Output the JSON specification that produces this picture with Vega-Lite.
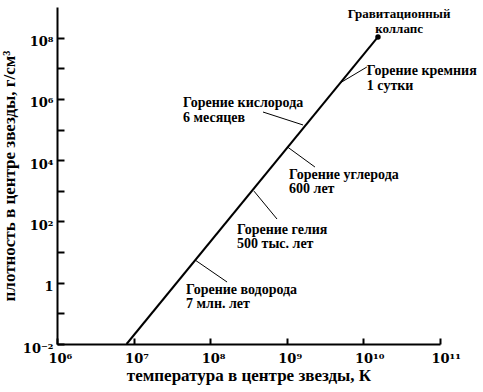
{
  "$schema": "https://vega.github.io/schema/vega-lite/v6.json",
  "width": 383,
  "height": 337,
  "autosize": "none",
  "padding": {"left": 57, "top": 7, "right": 43, "bottom": 48},
  "background": "white",
  "config": {
    "view": {"stroke": null},
    "font": "Liberation Serif",
    "axis": {"grid": false, "domainColor": "black", "domainWidth": 2, "tickColor": "black", "tickWidth": 2, "labelColor": "black", "titleColor": "black", "labelFont": "DejaVu Serif", "titleFont": "Liberation Serif", "labelFontWeight": "bold", "titleFontWeight": "bold", "labelFontSize": 13, "titleFontSize": 17}
  },
  "datasets": {
    "track": [
      {"T": 8.1e6, "rho": 0.01},
      {"T": 1.55e10, "rho": 1.05e8}
    ],
    "endpoint": [
      {"T": 1.55e10, "rho": 1.05e8}
    ],
    "leaders": [
      {"T": 4.95e9, "rho": 3.3e6, "T2": 1.11e10, "rho2": 1.1e7},
      {"T": 1.63e9, "rho": 1.41e5, "T2": 4.89e8, "rho2": 3.73e5},
      {"T": 1.03e9, "rho": 2.65e4, "T2": 2.33e9, "rho2": 5980},
      {"T": 3.73e8, "rho": 977, "T2": 7.45e8, "rho2": 120},
      {"T": 6.34e7, "rho": 5.52, "T2": 1.66e8, "rho2": 1.056}
    ],
    "labels": [
      {"T": 1.11e10, "rho": 8.1e6, "text": "Горение кремния"},
      {"T": 1.11e10, "rho": 2.6e6, "text": "1 сутки"},
      {"T": 4.42e7, "rho": 7.35e5, "text": "Горение кислорода"},
      {"T": 4.42e7, "rho": 2.38e5, "text": "6 месяцев"},
      {"T": 1.07e9, "rho": 3280, "text": "Горение углерода"},
      {"T": 1.07e9, "rho": 1146, "text": "600 лет"},
      {"T": 2.24e8, "rho": 52.5, "text": "Горение гелия"},
      {"T": 2.24e8, "rho": 18.4, "text": "500 тыс. лет"},
      {"T": 4.83e7, "rho": 0.578, "text": "Горение водорода"},
      {"T": 4.83e7, "rho": 0.2, "text": "7 млн. лет"}
    ],
    "clabels": [
      {"T": 2.92e10, "rho": 5.9e8, "text": "Гравитационный"},
      {"T": 2.92e10, "rho": 1.9e8, "text": "коллапс"}
    ]
  },
  "encoding": {
    "x": {"field": "T", "type": "quantitative", "scale": {"type": "log", "domain": [1e6, 1e11], "nice": false},
      "axis": {"title": "температура в центре звезды, К", "values": [1e6, 1e7, 1e8, 1e9, 1e10, 1e11], "tickSize": -6, "labelPadding": 14, "labelAlign": "left", "labelOffset": -9, "labelFlush": false, "labelBound": false, "labelOverlap": false, "labelExpr": "'10' + ['⁶','⁷','⁸','⁹','¹⁰','¹¹'][round(log(datum.value)/LN10)-6]", "titlePadding": 2}},
    "y": {"field": "rho", "type": "quantitative", "scale": {"type": "log", "domain": [0.01, 1e9], "nice": false},
      "axis": {"title": "плотность в центре звезды, г/см³", "values": [0.01, 0.1, 1, 10, 100, 1000, 10000, 100000, 1000000, 10000000, 100000000], "tickSize": -7, "labelPadding": 11, "labelOffset": 4, "labelFlush": false, "labelBound": false, "labelOverlap": false, "labelExpr": "['10⁻²','','1','','10²','','10⁴','','10⁶','','10⁸',''][round(log(datum.value)/LN10)+2]", "titlePadding": 4}}
  },
  "layer": [
    {"data": {"name": "track"}, "mark": {"type": "line", "color": "black", "strokeWidth": 2}},
    {"data": {"name": "endpoint"}, "mark": {"type": "point", "filled": true, "color": "black", "size": 30, "opacity": 1}},
    {"data": {"name": "leaders"}, "mark": {"type": "rule", "color": "black", "strokeWidth": 1},
      "encoding": {"x2": {"field": "T2"}, "y2": {"field": "rho2"}}},
    {"data": {"name": "labels"}, "mark": {"type": "text", "align": "left", "baseline": "middle", "fontSize": 14, "fontWeight": "bold", "font": "Liberation Serif", "color": "black"},
      "encoding": {"text": {"field": "text"}}},
    {"data": {"name": "clabels"}, "mark": {"type": "text", "align": "center", "baseline": "middle", "fontSize": 13, "fontWeight": "bold", "font": "Liberation Serif", "color": "black"},
      "encoding": {"text": {"field": "text"}}}
  ]
}
